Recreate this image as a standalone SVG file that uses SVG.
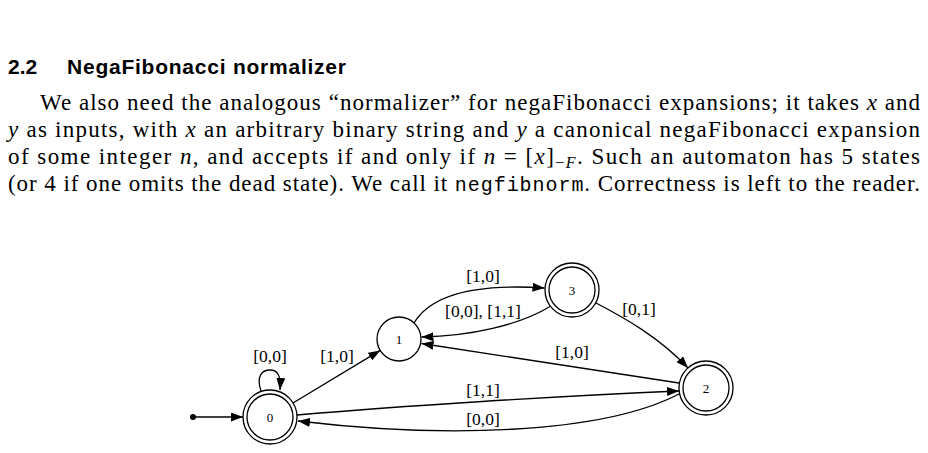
<svg xmlns="http://www.w3.org/2000/svg" width="928" height="453" viewBox="0 0 928 453">
<defs>
<style>
.h{font-family:"Liberation Sans","DejaVu Sans",sans-serif;font-weight:bold;font-size:21px;fill:#000}
.p{font-family:"Liberation Serif","DejaVu Serif",serif;font-size:23px;fill:#000}
.i{font-style:italic}
.m{font-family:"Liberation Mono","DejaVu Sans Mono",monospace;font-size:20px}
.n{fill:none;stroke:#000;stroke-width:1.3}
.nl{font-family:"Liberation Serif","DejaVu Serif",serif;font-size:13px;text-anchor:middle;fill:#000}
.el{font-family:"Liberation Serif","DejaVu Serif",serif;font-size:17.5px;text-anchor:middle;fill:#000}
.e{fill:none;stroke:#000;stroke-width:1.3}
</style>
<marker id="ah" viewBox="0 0 12 9" refX="12" refY="4.5" markerWidth="12" markerHeight="9" markerUnits="userSpaceOnUse" orient="auto"><path d="M0,0 L12,4.5 L0,9 z" fill="#000"/></marker>
</defs>
<rect width="928" height="453" fill="#fff"/>
<g id="heading">
<text class="h" x="8" y="74">2.2</text>
<text class="h" x="67" y="74" textLength="279">NegaFibonacci normalizer</text>
</g>
<g id="paragraph">
<text class="p" x="40" y="110" textLength="880">We also need the analogous “normalizer” for negaFibonacci expansions; it takes <tspan class="i">x</tspan> and</text>
<text class="p" x="8" y="137" textLength="912"><tspan class="i">y</tspan> as inputs, with <tspan class="i">x</tspan> an arbitrary binary string and <tspan class="i">y</tspan> a canonical negaFibonacci expansion</text>
<text class="p" x="8" y="164" textLength="912">of some integer <tspan class="i">n</tspan>, and accepts if and only if <tspan class="i">n</tspan> = [<tspan class="i">x</tspan>]<tspan font-size="16" dy="4">−</tspan><tspan font-size="16" class="i">F</tspan><tspan dy="-4">. Such an automaton has 5 states</tspan></text>
<text class="p" x="8" y="191" textLength="912">(or 4 if one omits the dead state). We call it <tspan class="m">negfibnorm</tspan>. Correctness is left to the reader.</text>
</g>
<g id="connectors">
<circle cx="193" cy="417" r="3" fill="#000"/>
<path class="e" marker-end="url(#ah)" d="M193,417 L243,417"/>
<path class="e" marker-end="url(#ah)" d="M261,391 C256,376 262,370 270,370 C278,370 281,376 280,390"/>
<text class="el" x="270" y="362">[0,0]</text>
<path class="e" marker-end="url(#ah)" d="M293,403 L380.2,350.4"/>
<text class="el" x="337" y="362">[1,0]</text>
<path class="e" marker-end="url(#ah)" d="M414,323 C430,296 470,283 544.5,288"/>
<text class="el" x="483" y="281.5">[1,0]</text>
<path class="e" marker-end="url(#ah)" d="M550,306.5 C520,325 470,336 421.5,337"/>
<text class="el" x="483" y="317">[0,0], [1,1]</text>
<path class="e" marker-end="url(#ah)" d="M596,303 C625,318 660,338 688,368"/>
<text class="el" x="639" y="315">[0,1]</text>
<path class="e" marker-end="url(#ah)" d="M679,383 L421.5,343.5"/>
<text class="el" x="572" y="357.5">[1,0]</text>
<path class="e" marker-end="url(#ah)" d="M297,415 C400,406 560,396 679,391"/>
<text class="el" x="483" y="396">[1,1]</text>
<path class="e" marker-end="url(#ah)" d="M679,394 C600,435 440,438 298,421"/>
<text class="el" x="483" y="424.5">[0,0]</text>
</g>
<g id="node0">
<circle class="n" cx="270" cy="417" r="27"/>
<circle class="n" cx="270" cy="417" r="23"/>
<text class="nl" x="270" y="421.5">0</text>
</g>
<g id="node1">
<circle class="n" cx="399" cy="339" r="22"/>
<text class="nl" x="399" y="343.5">1</text>
</g>
<g id="node3">
<circle class="n" cx="572" cy="290" r="27"/>
<circle class="n" cx="572" cy="290" r="23"/>
<text class="nl" x="572" y="294.5">3</text>
</g>
<g id="node2">
<circle class="n" cx="706" cy="388" r="27"/>
<circle class="n" cx="706" cy="388" r="23"/>
<text class="nl" x="706" y="392.5">2</text>
</g>
</svg>
